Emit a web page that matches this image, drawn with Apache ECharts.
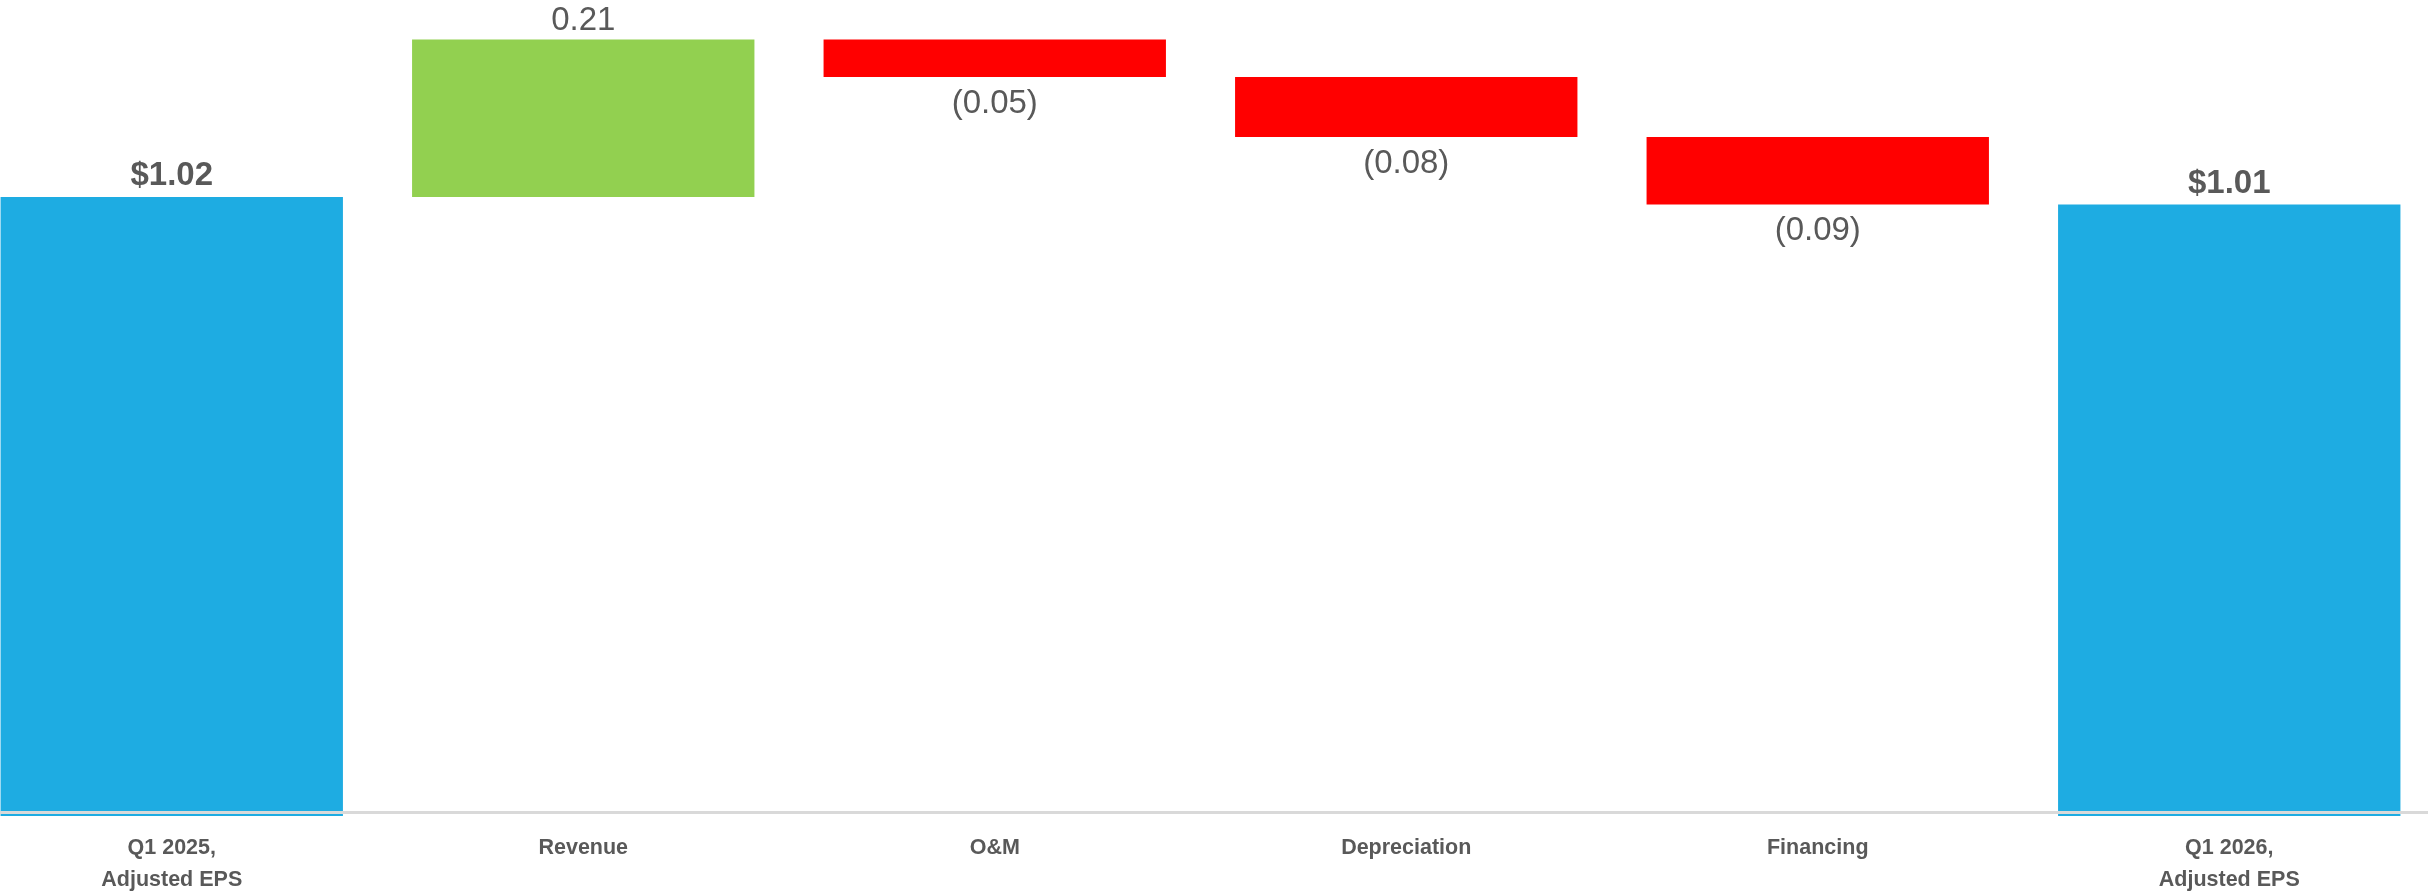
<!DOCTYPE html>
<html>
<head>
<meta charset="utf-8">
<script src="https://cdn.jsdelivr.net/npm/echarts@6/dist/echarts.min.js"></script>
<style>
html,body{margin:0;padding:0;background:#ffffff;overflow:hidden;width:2428px;height:893px;}
#chart{width:2469px;height:893px;margin-left:-34px;}
</style>
</head>
<body>
<div id="chart"></div>
<script>
const categories = ['Q1 2025,\nAdjusted EPS', 'Revenue', 'O&M', 'Depreciation', 'Financing', 'Q1 2026,\nAdjusted EPS'];
const changes = [1.02, 0.21, -0.05, -0.08, -0.09, 1.01];
const isTotal = [true, false, false, false, false, true];

const FONT = '"Liberation Sans", Arial, sans-serif';
const TEXT = '#595959';
const BLUE = '#1eace2', GREEN = '#92d050', RED = '#ff0000';

// derive waterfall bases from the changes
const base = [], val = [];
let running = 0;
changes.forEach((c, i) => {
  if (isTotal[i]) { base.push(0); val.push(c); running = c; }
  else if (c >= 0) { base.push(running); val.push(c); running += c; }
  else { running += c; base.push(running); val.push(-c); }
});

function fmt(c, i) {
  if (isTotal[i]) return '$' + c.toFixed(2);
  if (c < 0) return '(' + (-c).toFixed(2) + ')';
  return c.toFixed(2);
}

const barData = changes.map((c, i) => ({
  value: val[i],
  itemStyle: { color: isTotal[i] ? BLUE : (c >= 0 ? GREEN : RED) },
  label: {
    show: true,
    position: (isTotal[i] || c >= 0) ? 'top' : 'bottom',
    distance: isTotal[i] ? 4.5 : (c >= 0 ? 2 : 10),
    formatter: fmt(c, i),
    fontFamily: FONT,
    fontSize: 33,
    fontWeight: isTotal[i] ? 'bold' : 'normal',
    color: TEXT
  }
}));

const chart = echarts.init(document.getElementById('chart'), null, { renderer: 'canvas' });
chart.setOption({
  backgroundColor: '#ffffff',
  animation: false,
  grid: { left: 0, right: 0, top: 24.5, bottom: 77, containLabel: false, outerBoundsMode: 'none' },
  xAxis: {
    type: 'category',
    data: categories,
    z: 5,
    offset: -4,
    axisLine: { show: true, lineStyle: { color: '#d9d9d9', width: 3 } },
    axisTick: { show: false },
    axisLabel: {
      margin: 20,
      fontFamily: FONT,
      fontSize: 21.5,
      fontWeight: 'bold',
      color: TEXT,
      lineHeight: 32,
      interval: 0
    }
  },
  yAxis: {
    type: 'value',
    min: 0.195,
    max: 1.25,
    show: false,
    splitLine: { show: false }
  },
  series: [
    {
      type: 'bar',
      stack: 'wf',
      data: base,
      itemStyle: { color: 'transparent' },
      emphasis: { disabled: true },
      silent: true,
      barCategoryGap: '16.8%'
    },
    {
      type: 'bar',
      stack: 'wf',
      data: barData,
      barCategoryGap: '16.8%'
    }
  ]
});
</script>
</body>
</html>
